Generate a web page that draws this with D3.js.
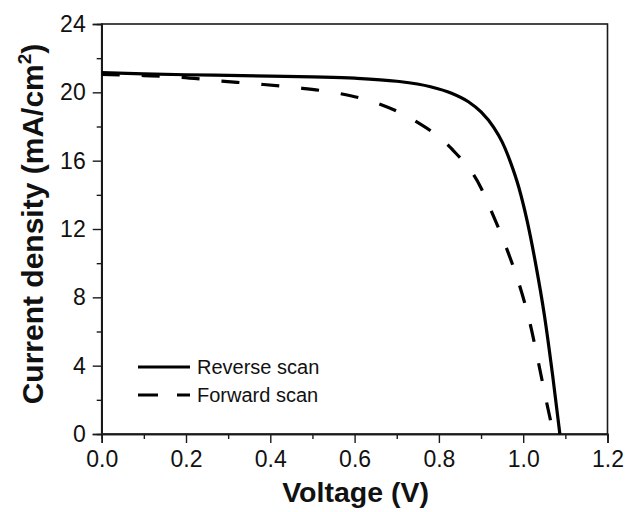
<!DOCTYPE html>
<html>
<head>
<meta charset="utf-8">
<script src="https://cdn.jsdelivr.net/npm/d3@7"></script>
<style>
  html, body { margin: 0; padding: 0; background: #fff; }
  svg { display: block; font-family: Arial, "Liberation Sans", sans-serif; }
</style>
</head>
<body>
<svg id="chart" width="626" height="512"></svg>
<script>
// J–V curves of the device under reverse and forward voltage sweeps
const reverseV = [0, 0.1, 0.2, 0.3, 0.4, 0.5, 0.6, 0.7, 0.78, 0.83, 0.87, 0.9, 0.93, 0.95, 0.97, 0.99, 1.01, 1.03, 1.05, 1.07, 1.087];
const reverseJ = [21.15, 21.08, 21.03, 20.99, 20.95, 20.9, 20.83, 20.65, 20.33, 19.95, 19.45, 18.85, 17.95, 17.1, 15.9, 14.4, 12.4, 9.9, 7.0, 3.4, 0];

const forwardV = [0, 0.1, 0.19, 0.27, 0.37, 0.46, 0.56, 0.65, 0.74, 0.83, 0.9, 0.92, 0.96, 0.99, 1.016, 1.036, 1.056, 1.072];
const forwardJ = [21.05, 20.98, 20.88, 20.69, 20.49, 20.28, 19.95, 19.4, 18.38, 16.7, 14.4, 13.3, 10.9, 8.8, 6.5, 4.2, 1.8, 0];

const xTicks = [0, 0.2, 0.4, 0.6, 0.8, 1.0, 1.2];
const yTicks = [0, 4, 8, 12, 16, 20, 24];
const seriesNames = ["Reverse scan", "Forward scan"];

const svg = d3.select("#chart");
const plotL = 101.7, plotR = 607.5, plotT = 24, plotB = 434;
const ink = "#1a1a1a";
const font = "Arial, 'Liberation Sans', sans-serif";

const x = d3.scaleLinear().domain([0, 1.2]).range([plotL, plotR]);
const y = d3.scaleLinear().domain([0, 24]).range([plotB, plotT]);

// minor ticks halfway between major ones
const xMinor = d3.range(0.1, 1.2, 0.2);
const yMinor = d3.range(2, 24, 4);

// frame
svg.append("rect")
  .attr("x", plotL).attr("y", plotT)
  .attr("width", plotR - plotL).attr("height", plotB - plotT)
  .attr("fill", "none").attr("stroke", ink).attr("stroke-width", 1.6);

// bottom axis
const gx = svg.append("g").attr("transform", `translate(0,${plotB})`);
gx.call(d3.axisBottom(x).tickValues(xTicks).tickFormat(d3.format(".1f")).tickSize(9).tickPadding(8));
gx.append("g").call(d3.axisBottom(x).tickValues(xMinor).tickFormat("").tickSize(5));
gx.selectAll(".domain").attr("stroke", ink).attr("stroke-width", 1.6);
gx.selectAll(".tick line").attr("stroke", ink).attr("stroke-width", 1.4);
gx.selectAll(".tick text").attr("fill", "#111").attr("font-size", 23).attr("font-family", font);

// left axis
const gy = svg.append("g").attr("transform", `translate(${plotL},0)`);
gy.call(d3.axisLeft(y).tickValues(yTicks).tickFormat(d3.format("d")).tickSize(9).tickPadding(7));
gy.append("g").call(d3.axisLeft(y).tickValues(yMinor).tickFormat("").tickSize(5));
gy.selectAll(".domain").attr("stroke", ink).attr("stroke-width", 1.6);
gy.selectAll(".tick line").attr("stroke", ink).attr("stroke-width", 1.4);
gy.selectAll(".tick text").attr("fill", "#111").attr("font-size", 23).attr("font-family", font);

// curves
const line = d3.line().x(d => x(d[0])).y(d => y(d[1])).curve(d3.curveMonotoneX);
const reverse = reverseV.map((v, i) => [v, reverseJ[i]]);
const forward = forwardV.map((v, i) => [v, forwardJ[i]]);

svg.append("path").datum(forward)
  .attr("d", line).attr("fill", "none").attr("stroke", "#000")
  .attr("stroke-width", 3.2).attr("stroke-dasharray", "18,22");
svg.append("path").datum(reverse)
  .attr("d", line).attr("fill", "none").attr("stroke", "#000")
  .attr("stroke-width", 3.2);

// legend
const legend = svg.append("g");
const legendRows = [
  { name: seriesNames[0], y: 367, dash: null },
  { name: seriesNames[1], y: 395, dash: "20,19" }
];
legendRows.forEach(r => {
  legend.append("line")
    .attr("x1", 138).attr("x2", 190).attr("y1", r.y).attr("y2", r.y)
    .attr("stroke", "#000").attr("stroke-width", 3.2)
    .attr("stroke-dasharray", r.dash);
  legend.append("text")
    .attr("x", 197).attr("y", r.y + 7)
    .attr("font-size", 20).attr("fill", "#111")
    .text(r.name);
});

// axis titles
svg.append("text")
  .attr("x", (plotL + plotR) / 2 + 1).attr("y", 502)
  .attr("text-anchor", "middle").attr("font-size", 28.5).attr("font-weight", "bold").attr("fill", "#111")
  .text("Voltage (V)");

const yt = svg.append("text")
  .attr("transform", `translate(43,224) rotate(-90)`)
  .attr("text-anchor", "middle").attr("font-size", 30).attr("font-weight", "bold").attr("fill", "#111");
yt.append("tspan").text("Current density (mA/cm");
yt.append("tspan").attr("font-size", 19).attr("dy", -12).text("2");
yt.append("tspan").attr("dy", 12).text(")");
</script>
</body>
</html>
